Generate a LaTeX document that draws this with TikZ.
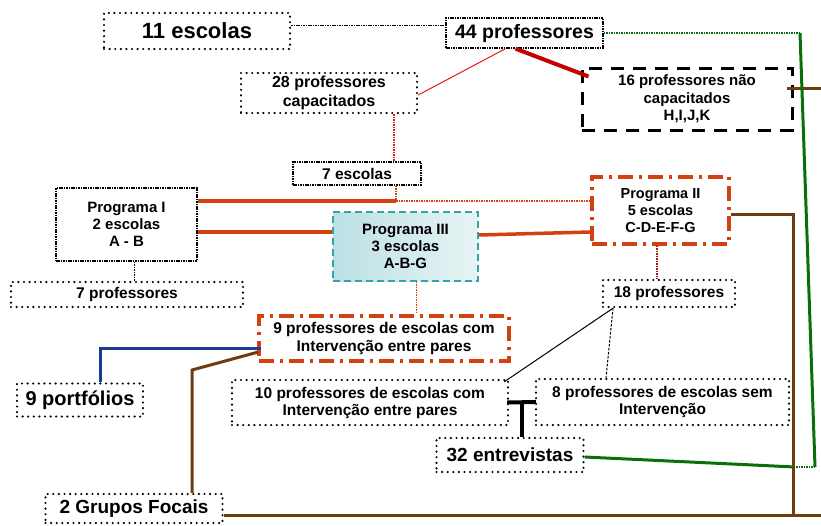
\documentclass[tikz,border=0pt]{standalone}
\usepackage{fontspec}
\setmainfont{Liberation Sans}
\usetikzlibrary{calc}
\definecolor{ored}{RGB}{210,65,15}
\definecolor{thickred}{RGB}{195,0,0}
\definecolor{thinred}{RGB}{230,25,25}
\definecolor{darkr}{RGB}{170,20,20}
\definecolor{brownc}{RGB}{110,60,15}
\definecolor{greenc}{RGB}{10,110,10}
\definecolor{bluec}{RGB}{25,60,150}
\definecolor{tealc}{RGB}{50,165,165}
\definecolor{tealL}{RGB}{188,224,228}
\definecolor{tealR}{RGB}{232,244,245}
\tikzset{
  base/.style={align=center, inner sep=0pt, font=\bfseries\fontsize{15}{17}\selectfont},
  dotbox/.style={base, draw, line width=2.4pt, dash pattern=on 0pt off 5.6pt, line cap=round},
  finebox/.style={base, draw, line width=1.3pt, dash pattern=on 1.6pt off 0.8pt},
  blackdash/.style={base, draw, line width=3pt, dash pattern=on 13pt off 9pt},
  ddbox/.style={base, draw=ored, line width=3.5pt, dash pattern=on 15pt off 6pt on 3pt off 6pt},
  tealbox/.style={base, draw=tealc, line width=1.5pt, dash pattern=on 7pt off 4pt, left color=tealL, right color=tealR},
  cfine/.style={line width=1pt, dash pattern=on 1.6pt off 0.8pt},
  kfine/.style={line width=1.2pt, dash pattern=on 1.6pt off 0.9pt},
  kthin/.style={line width=1pt},
  kdash/.style={line width=1pt, dash pattern=on 2.5pt off 1.5pt},
  thinredl/.style={thinred, line width=1pt},
  thickredl/.style={thickred, line width=4pt},
  greendot/.style={greenc, line width=1.5pt, dash pattern=on 1.5pt off 1pt},
  greenline/.style={greenc, line width=3pt},
  brownline/.style={brownc, line width=3pt},
  blueline/.style={bluec, line width=3pt},
  oline/.style={ored, line width=3.5pt},
  odot/.style={ored, line width=1.5pt, dash pattern=on 1.5pt off 1pt},
  rdot/.style={thinred, line width=1.3pt, dash pattern=on 1.5pt off 1pt},
  drdot/.style={darkr, line width=1.3pt, dash pattern=on 1.5pt off 1pt},
  tline/.style={line width=4pt}
}
\begin{document}
\begin{tikzpicture}[x=1pt,y=-1pt]
\useasboundingbox (0,0) rectangle (821,525);
% nodes
\node[dotbox, minimum width=186pt, minimum height=36pt, font=\bfseries\fontsize{22}{24}\selectfont] (esc11) at (197,31) {11 escolas};
\node[finebox, minimum width=157pt, minimum height=30pt, font=\bfseries\fontsize{19.5}{22}\selectfont] (p44) at (524.5,33) {44 professores};
\node[dotbox, minimum width=176pt, minimum height=40pt, font=\bfseries\fontsize{16}{19}\selectfont] (p28) at (329,93) {28 professores\\capacitados};
\node[blackdash, minimum width=210pt, minimum height=62pt, font=\bfseries\fontsize{15}{17.5}\selectfont] (p16) at (687,99) {16 professores não\\capacitados\\H,I,J,K};
\node[finebox, minimum width=128pt, minimum height=23pt, font=\bfseries\fontsize{15.5}{17}\selectfont] (esc7) at (357,173.5) {7 escolas};
\node[finebox, minimum width=141pt, minimum height=73pt] (progI) at (126.5,224.5) {Programa I\\2 escolas\\A - B};
\node[dotbox, minimum width=232pt, minimum height=25pt, font=\bfseries\fontsize{15.5}{17}\selectfont] (prof7) at (127,294.5) {7 professores};
\node[tealbox, minimum width=145pt, minimum height=69pt] (progIII) at (405.5,246.5) {Programa III\\3 escolas\\A-B-G};
\node[ddbox, minimum width=137pt, minimum height=67pt, font=\bfseries\fontsize{14.5}{17}\selectfont] (progII) at (660.5,210.5) {Programa II\\5 escolas\\C-D-E-F-G};
\node[dotbox, minimum width=132pt, minimum height=27pt, font=\bfseries\fontsize{15.5}{17}\selectfont] (p18) at (669,293.5) {18 professores};
\node[ddbox, minimum width=250pt, minimum height=45pt, font=\bfseries\fontsize{15.5}{18}\selectfont] (p9) at (384,338.5) {9 professores de escolas com\\Intervenção entre pares};
\node[dotbox, minimum width=126pt, minimum height=33pt, font=\bfseries\fontsize{20}{22}\selectfont] (port9) at (80,400) {9 portfólios};
\node[dotbox, minimum width=276pt, minimum height=45pt, font=\bfseries\fontsize{15.5}{17}\selectfont] (p10) at (370,402.5) {10 professores de escolas com\\Intervenção entre pares};
\node[dotbox, minimum width=253pt, minimum height=46pt, font=\bfseries\fontsize{15.5}{17}\selectfont] (p8) at (662.5,402) {8 professores de escolas sem\\Intervenção};
\node[dotbox, minimum width=147pt, minimum height=34pt, font=\bfseries\fontsize{19}{21}\selectfont] (ent32) at (510,455) {32 entrevistas};
\node[dotbox, minimum width=177pt, minimum height=29pt, font=\bfseries\fontsize{19}{21}\selectfont] (gf2) at (134,508.5) {2 Grupos Focais};
% coordinates
\coordinate (gA) at (800,33);
\coordinate (gB) at (815,467);
\coordinate (gC) at (795,467);
\coordinate (bR1) at (821,88);
\coordinate (bC) at (793,214);
\coordinate (bD) at (793,515);
\coordinate (bR2) at (821,515);
\coordinate (bE) at (192,370);
\coordinate (uA) at (100,348);
\coordinate (oJ) at (396,201);
\coordinate (tM) at ($(p10.east)!0.5!(p8.west)$);
% connectors
\draw[cfine] ([yshift=5.5pt]esc11.east) -- ([yshift=5.5pt]esc11.east -| p44.west);
\draw[thinredl] ([xshift=-19pt]p44.south) -- ([yshift=-2pt]p28.east);
\draw[thickredl] ([xshift=-9pt]p44.south) -- ([xshift=8pt,yshift=-10pt]p16.north west);
\draw[brownline] ([xshift=-7pt,yshift=11pt]p16.east) -- (bR1);
\draw[greendot] (p44.east) -- (gA);
\draw[greenline] (gA) -- (gB);
\draw[greendot] (gB) -- (gC);
\draw[greenline] (gC) -- ([yshift=-2pt]ent32.east);
\draw[brownline] ([yshift=-3.5pt]progII.east) -- (bC) -- (bD);
\draw[brownline] ([yshift=-6.5pt]gf2.east) -- (bR2);
\draw[brownline] ([xshift=1pt,yshift=-13.5pt]p9.west) -- (bE) -- (bE |- gf2.north);
\draw[blueline] ([xshift=4pt,yshift=-9.5pt]p9.west) -- (uA) -- (uA |- port9.north);
\draw[oline] ([yshift=23.5pt]progI.east) -- (oJ);
\draw[odot] (esc7.south -| oJ) -- (oJ);
\draw[odot] (oJ) -- (oJ -| progII.west);
\draw[oline] ([yshift=-7.5pt]progI.east) -- ([yshift=-7.5pt]progI.east -| progIII.west);
\draw[oline] ([yshift=11.5pt]progIII.east) -- ([yshift=-21.5pt]progII.west);
\draw[rdot] ([xshift=65pt]p28.south) -- ([xshift=65pt]p28.south |- esc7.north);
\draw[kfine] ([xshift=8pt]progI.south) -- ([xshift=8pt]progI.south |- prof7.north);
\draw[odot] ([xshift=11pt]progIII.south) -- ([xshift=11pt]progIII.south |- p9.north);
\draw[drdot] ([xshift=-3.5pt]progII.south) -- ([xshift=-3.5pt]progII.south |- p18.north);
\draw[kthin] ([xshift=-56pt]p18.south) -- ([xshift=-5pt,yshift=-3pt]p10.north east);
\draw[kdash] ([xshift=-56pt]p18.south) -- ([xshift=-56.5pt]p8.north);
\draw[tline] ([xshift=-2pt]p10.east) -- ([xshift=1pt]p8.west);
\draw[tline] (tM) -- (tM |- ent32.north);
\end{tikzpicture}
\end{document}
